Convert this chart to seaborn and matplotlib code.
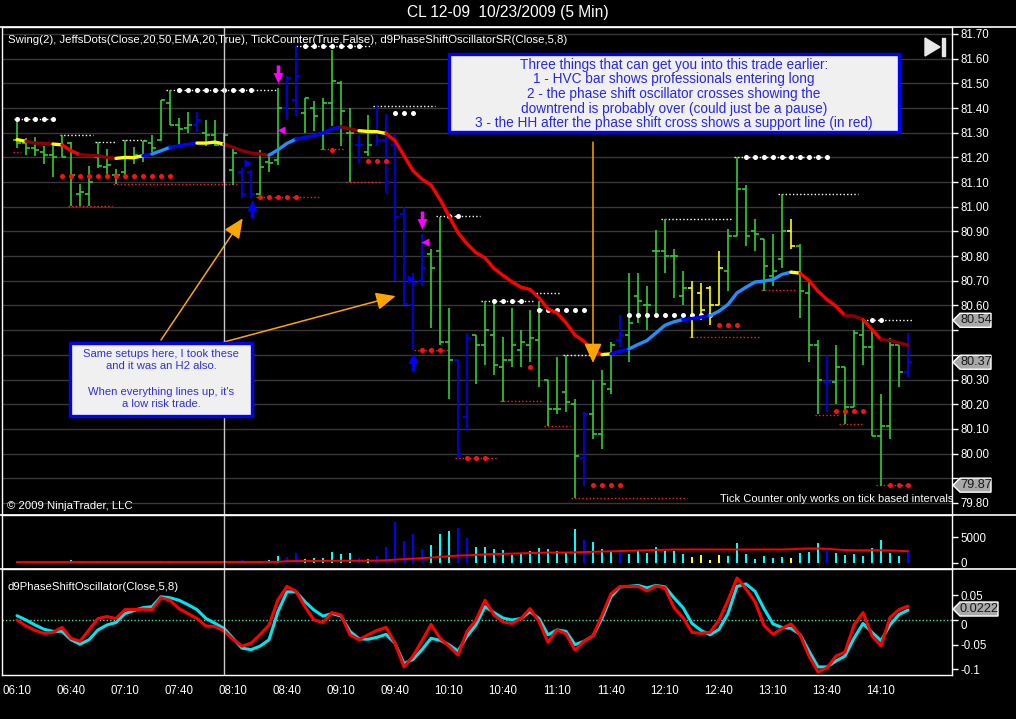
import matplotlib
matplotlib.use("Agg")
import matplotlib.pyplot as plt
from matplotlib.patches import Rectangle, Polygon
import numpy as np
import pandas as pd
import seaborn as sns

# ---- CL 12-09, 5 min bars (06:10 .. 14:25) ----
opens = [81.27, 81.26, 81.24, 81.22, 81.21, 81.25, 81.26, 81.05, 81.05, 81.20,
         81.16, 81.13, 81.14, 81.20, 81.20, 81.26, 81.27, 81.42, 81.33, 81.32,
         81.33, 81.30, 81.29, 81.25, 81.15, 81.14, 81.14, 81.05, 81.18, 81.19,
         81.40, 81.434, 81.38, 81.40, 81.30, 81.42, 81.50, 81.30, 81.25, 81.22,
         81.30, 81.27, 81.25, 80.97, 80.60, 80.70, 80.81, 80.82, 80.45, 80.38,
         80.15, 80.48, 80.44, 80.48, 80.35, 80.38, 80.42, 80.44, 80.46, 80.30,
         80.18, 80.25, 80.20, 79.98, 80.16, 80.08, 80.26, 80.46, 80.48, 80.64,
         80.60, 80.82, 80.82, 80.80, 80.64, 80.67, 80.65, 80.67, 80.60, 80.74,
         80.88, 81.07, 80.90, 80.87, 80.72, 80.79, 80.90, 80.84, 80.65, 80.44,
         80.29, 80.29, 80.35, 80.19, 80.48, 80.43, 80.07, 80.11, 80.44, 80.33]
highs = [81.355, 81.28, 81.284, 81.247, 81.247, 81.291, 81.261, 81.092, 81.164, 81.263,
         81.236, 81.155, 81.27, 81.243, 81.265, 81.292, 81.432, 81.474, 81.359, 81.382,
         81.382, 81.353, 81.353, 81.30, 81.234, 81.157, 81.15, 81.23, 81.21, 81.48,
         81.528, 81.65, 81.44, 81.427, 81.44, 81.634, 81.508, 81.40, 81.29, 81.37,
         81.413, 81.377, 81.30, 81.00, 80.73, 80.89, 80.83, 80.96, 80.59, 80.38,
         80.49, 80.48, 80.62, 80.615, 80.474, 80.59, 80.50, 80.58, 80.62, 80.30,
         80.39, 80.40, 80.22, 80.17, 80.30, 80.34, 80.45, 80.56, 80.73, 80.73,
         80.68, 80.905, 80.95, 80.83, 80.74, 80.70, 80.69, 80.68, 80.82, 80.91,
         81.20, 81.09, 80.95, 80.87, 80.89, 81.05, 80.95, 80.85, 80.70, 80.46,
         80.40, 80.44, 80.35, 80.50, 80.54, 80.50, 80.24, 80.47, 80.44, 80.49]
lows = [81.24, 81.21, 81.207, 81.173, 81.119, 81.20, 81.003, 81.003, 81.003, 81.159,
        81.132, 81.092, 81.119, 81.173, 81.18, 81.22, 81.265, 81.331, 81.241, 81.297,
        81.301, 81.245, 81.245, 81.10, 81.089, 81.036, 81.036, 81.046, 81.14, 81.17,
        81.353, 81.366, 81.30, 81.305, 81.23, 81.326, 81.245, 81.10, 81.177, 81.206,
        81.245, 81.055, 80.70, 80.60, 80.42, 80.68, 80.51, 80.44, 80.22, 79.98,
        80.09, 80.28, 80.36, 80.32, 80.21, 80.35, 80.35, 80.37, 80.27, 80.11,
        80.16, 80.17, 79.82, 79.87, 80.06, 80.02, 80.24, 80.43, 80.37, 80.53,
        80.50, 80.57, 80.73, 80.63, 80.60, 80.47, 80.54, 80.52, 80.60, 80.66,
        80.88, 80.84, 80.82, 80.66, 80.68, 80.75, 80.83, 80.55, 80.37, 80.16,
        80.17, 80.20, 80.12, 80.19, 80.36, 80.07, 79.87, 80.06, 80.27, 80.31]
closes = [81.26, 81.24, 81.23, 81.21, 81.20, 81.20, 81.13, 81.06, 81.10, 81.165,
          81.17, 81.13, 81.20, 81.21, 81.265, 81.24, 81.432, 81.33, 81.315, 81.33,
          81.35, 81.29, 81.25, 81.29, 81.218, 81.05, 81.05, 81.16, 81.177, 81.40,
          81.52, 81.528, 81.44, 81.366, 81.42, 81.508, 81.386, 81.30, 81.25, 81.25,
          81.27, 81.10, 80.96, 80.605, 80.69, 80.75, 80.75, 80.45, 80.38, 80.00,
          80.47, 80.44, 80.50, 80.36, 80.38, 80.44, 80.45, 80.47, 80.58, 80.18,
          80.18, 80.21, 79.99, 80.16, 80.08, 80.28, 80.44, 80.48, 80.53, 80.62,
          80.60, 80.82, 80.80, 80.80, 80.67, 80.55, 80.58, 80.60, 80.75, 80.88,
          81.07, 80.88, 80.89, 80.76, 80.74, 80.90, 80.84, 80.66, 80.44, 80.30,
          80.29, 80.35, 80.19, 80.49, 80.43, 80.07, 80.11, 80.44, 80.33, 80.37]
# g = normal bar, b = blue (high volume), y = yellow (low volume)
bar_kind = ("gggggggggg" "gggggggggg" "bggggbbggg" "bbggggggbg" "bbbbbbgggb"
            "bggggggggg" "gggbgggbgg" "gggggyyyyg" "ggggggyggg" "bggggggggb")

volumes = [150, 100, 100, 150, 100, 150, 500, 300, 150, 350,
           100, 150, 150, 200, 150, 100, 250, 250, 100, 100,
           150, 100, 150, 150, 200, 450, 300, 400, 450, 1300,
           1200, 2000, 700, 900, 1000, 2100, 1800, 2000, 1000, 700,
           1400, 3000, 8100, 4300, 5700, 2700, 3550, 5650, 6250, 6850,
           4900, 3000, 3000, 2650, 2500, 1500, 2000, 2300, 2900, 2700,
           2300, 2100, 6650, 4450, 4100, 2700, 2100, 2300, 1700, 2500,
           1900, 3100, 2300, 2300, 1700, 1100, 1500, 500, 1500, 1300,
           3900, 1700, 700, 1300, 900, 1100, 900, 1900, 2100, 3900,
           2500, 1900, 1500, 1700, 1300, 2900, 4450, 1900, 1300, 2300]
volume_avg = [120, 120, 120, 120, 120, 120, 130, 130, 130, 130,
              130, 130, 130, 130, 130, 130, 130, 130, 130, 130,
              130, 130, 130, 130, 130, 140, 140, 140, 150, 160,
              300, 330, 340, 350, 360, 370, 380, 390, 400, 410,
              420, 480, 600, 700, 800, 900, 1000, 1150, 1300, 1400,
              1450, 1550, 1650, 1700, 1750, 1800, 1850, 1900, 1950, 2000,
              2000, 2000, 2050, 2100, 2150, 2200, 2250, 2300, 2350, 2400,
              2450, 2500, 2550, 2600, 2600, 2600, 2600, 2600, 2600, 2600,
              2600, 2600, 2600, 2600, 2600, 2600, 2650, 2750, 2800, 2800,
              2750, 2600, 2500, 2450, 2450, 2450, 2450, 2400, 2350, 2250]

ema = [81.272, 81.265, 81.258, 81.257, 81.254, 81.251, 81.227, 81.211, 81.208, 81.207,
       81.200, 81.196, 81.200, 81.199, 81.207, 81.214, 81.227, 81.241, 81.247, 81.253,
       81.258, 81.258, 81.262, 81.254, 81.241, 81.227, 81.218, 81.214, 81.209, 81.231,
       81.257, 81.274, 81.281, 81.288, 81.299, 81.315, 81.324, 81.315, 81.308, 81.305,
       81.304, 81.297, 81.268, 81.207, 81.146, 81.112, 81.088, 81.030, 80.962, 80.895,
       80.850, 80.814, 80.793, 80.750, 80.722, 80.696, 80.674, 80.665, 80.631, 80.586,
       80.570, 80.530, 80.480, 80.455, 80.418, 80.401, 80.404, 80.415, 80.424, 80.442,
       80.458, 80.489, 80.520, 80.534, 80.543, 80.547, 80.553, 80.559, 80.577, 80.604,
       80.651, 80.674, 80.695, 80.699, 80.705, 80.726, 80.735, 80.731, 80.701, 80.658,
       80.624, 80.597, 80.559, 80.557, 80.543, 80.503, 80.462, 80.458, 80.449, 80.439]
# colour of each EMA segment bar i -> i+1
ema_kind = ("ydddyrrddddyyyb" "llbbbyyydddddlllbbbbbddyyy"
            "rrrrrrrrrrrrrrrrrrrrrrrr" "ybbllllllbbblllllllllyrrrrrddrrddd")

osc_fast = [0.0087, 0.0, -0.01, -0.0187, -0.023, -0.023, -0.04, -0.049, -0.04, -0.02,
            -0.01, -0.005, 0.013, 0.019, 0.025, 0.027, 0.047, 0.045, 0.04, 0.031,
            0.021, 0.003, -0.0067, -0.017, -0.037, -0.057, -0.06, -0.053, -0.04, 0.017,
            0.057, 0.057, 0.037, 0.02, 0.008, 0.013, 0.008, -0.023, -0.038, -0.039,
            -0.035, -0.029, -0.047, -0.088, -0.08, -0.06, -0.037, -0.041, -0.05, -0.063,
            -0.033, -0.01, 0.027, 0.015, 0.004, 0.0, 0.003, 0.017, 0.003, -0.03,
            -0.02, -0.023, -0.05, -0.043, -0.032, 0.003, 0.047, 0.067, 0.068, 0.07,
            0.065, 0.07, 0.067, 0.045, 0.025, -0.007, -0.021, -0.03, -0.019, 0.013,
            0.068, 0.073, 0.058, 0.023, -0.008, -0.015, -0.017, -0.029, -0.063, -0.095,
            -0.095, -0.083, -0.073, -0.037, -0.007, -0.025, -0.042, -0.01, 0.011, 0.02]
osc_slow = [0.0, -0.012, -0.021, -0.027, -0.025, -0.015, -0.037, -0.043, -0.02, 0.003,
            0.007, 0.003, 0.021, 0.021, 0.022, 0.021, 0.045, 0.04, 0.023, 0.013,
            0.003, -0.012, -0.013, -0.022, -0.039, -0.053, -0.047, -0.03, -0.01, 0.041,
            0.068, 0.058, 0.027, 0.0, -0.005, 0.015, 0.01, -0.03, -0.04, -0.03,
            -0.021, -0.015, -0.047, -0.095, -0.073, -0.042, -0.009, -0.037, -0.053, -0.071,
            -0.023, 0.0, 0.04, 0.01, -0.004, -0.007, 0.003, 0.023, -0.003, -0.045,
            -0.02, -0.028, -0.061, -0.043, -0.032, 0.01, 0.053, 0.068, 0.068, 0.068,
            0.059, 0.069, 0.065, 0.025, 0.005, -0.025, -0.027, -0.025, 0.0, 0.04,
            0.085, 0.063, 0.037, -0.011, -0.029, -0.017, -0.008, -0.03, -0.073, -0.105,
            -0.097, -0.073, -0.065, -0.01, 0.015, -0.032, -0.052, 0.005, 0.021, 0.028]

# Swing(2) levels: dotted lines (level, from bar, to bar)
swing_hi_level = [81.355, 81.29, 81.263, 81.27, 81.474, 81.653, 81.41, 80.962,
                  80.62, 80.649, 80.401, 80.95, 81.20, 81.05, 80.54]
swing_hi_from = [-0.3, 4.8, 8.7, 11.7, 16.6, 31.0, 39.6, 46.6,
                 51.6, 57.7, 60.7, 71.6, 79.7, 84.6, 94.0]
swing_hi_to = [4.4, 8.4, 10.9, 14.4, 28.8, 39.4, 46.4, 51.4,
               57.4, 60.4, 63.7, 79.4, 90.3, 93.4, 99.4]
swing_lo_level = [81.223, 81.003, 81.092, 81.038, 81.233, 81.10, 80.419, 79.98,
                  80.212, 80.111, 79.818, 80.472, 80.661, 80.158, 80.118, 79.872]
swing_lo_from = [-0.4, 5.7, 10.7, 26.6, 33.7, 36.6, 44.1, 48.7,
                 53.7, 58.6, 61.6, 74.7, 82.7, 88.7, 91.3, 95.4]
swing_lo_to = [0.4, 10.5, 24.4, 33.5, 36.4, 40.5, 47.9, 53.4,
               58.4, 61.4, 74.4, 82.4, 86.4, 91.4, 93.9, 99.2]
# JeffsDots: rows of big dots (level, first bar, last bar)
hi_dot_level = [81.355, 81.474, 81.653, 81.38, 80.962, 80.62, 80.581, 80.56, 81.20, 80.54]
hi_dot_first = [0, 18, 32, 42, 48, 53, 58, 68, 81, 95]
hi_dot_last = [4, 26, 38, 44, 49, 56, 63, 77, 90, 96]
lo_dot_level = [81.123, 81.04, 81.231, 81.184, 80.419, 79.98, 80.351, 79.872, 80.52, 80.172, 79.872]
lo_dot_first = [5, 27, 35, 39, 45, 50, 57, 64, 78, 91, 97]
lo_dot_last = [17, 31, 35, 41, 47, 52, 57, 67, 80, 94, 99]

# phase shift signals
sig_down_bar, sig_down_price = [29, 45], [81.536, 80.948]
sig_up_bar, sig_up_price = [26.1, 44], [80.989, 80.371]
sig_left_bar, sig_left_price = [29.33, 45.33], [81.31, 80.857]
sig_right_bar, sig_right_price = [25.67, 43.74], [81.177, 80.707]

times = pd.date_range("2009-10-23 06:10", periods=len(closes), freq="5min").strftime("%H:%M")
price_ticks = [round(79.8 + 0.1 * k, 2) for k in range(20)]
osc_last = 0.0222
cursor_bar = 23

# ---- style ----
sns.set_theme(style="dark", rc={
    "axes.facecolor": "black", "figure.facecolor": "black",
    "axes.edgecolor": "white", "text.color": "white",
    "xtick.color": "white", "ytick.color": "white",
    "axes.grid": False, "axes.linewidth": 1.0})
plt.rcParams["font.family"] = ["Liberation Sans", "DejaVu Sans"]

W, H = 1016, 719
fig = plt.figure(figsize=(W / 100, H / 100), dpi=100)


def fx(px):
    return px / W


def fy(py):
    return 1 - py / H


L, R = 2, 952
ax_p = fig.add_axes([fx(L), fy(515), fx(R - L), (515 - 27) / H])
ax_v = fig.add_axes([fx(L), fy(569), fx(R - L), (569 - 515) / H])
ax_o = fig.add_axes([fx(L), fy(675), fx(R - L), (675 - 569) / H])

x = np.arange(len(closes))
xlim = ((L - 17) / 9, (R - 17) / 9)

# ---- price panel ----
bar_cmap = {"g": "#33CC33", "b": "#0000FF", "y": "#FFFF00"}
cols = [bar_cmap[k] for k in bar_kind]
for lv in price_ticks:
    ax_p.axhline(lv, color="#383838", lw=1, zorder=0)

for lv, a, b in zip(swing_hi_level, swing_hi_from, swing_hi_to):
    ax_p.hlines(lv, a, b, colors="white", linestyles=(0, (1, 1.6)), lw=1, zorder=2)
for lv, a, b in zip(swing_lo_level, swing_lo_from, swing_lo_to):
    ax_p.hlines(lv, a, b, colors="#FF2020", linestyles=(0, (1, 1.6)), lw=1, zorder=2)
for lv, a, b in zip(hi_dot_level, hi_dot_first, hi_dot_last):
    bars = np.arange(a, b + 1)
    ax_p.scatter(bars, [lv] * len(bars), marker="o", s=13, color="white", lw=0, zorder=4)
for lv, a, b in zip(lo_dot_level, lo_dot_first, lo_dot_last):
    bars = np.arange(a, b + 1)
    ax_p.scatter(bars, [lv] * len(bars), marker="o", s=13, color="#FF1010", lw=0, zorder=4)

ax_p.vlines(x, lows, highs, colors=cols, lw=1.2, zorder=3)
ax_p.hlines(opens, x - 0.4, x, colors=cols, lw=1.2, zorder=3)
ax_p.hlines(closes, x, x + 0.4, colors=cols, lw=1.2, zorder=3)

ema_cmap = {"y": "#FFFF00", "d": "#8B0000", "r": "#FF0000", "b": "#0000FF", "l": "#1E90FF"}
start = 0
for i in range(1, len(ema_kind) + 1):
    if i == len(ema_kind) or ema_kind[i] != ema_kind[start]:
        ax_p.plot(x[start:i + 1], ema[start:i + 1], color=ema_cmap[ema_kind[start]],
                  lw=2.4, solid_capstyle="round", zorder=5)
        start = i

down_arrow = [(-0.2, 1), (0.2, 1), (0.2, 0.15), (0.55, 0.15), (0, -1), (-0.55, 0.15), (-0.2, 0.15)]
up_arrow = [(vx, -vy) for vx, vy in down_arrow]
ax_p.plot(sig_down_bar, sig_down_price, ls="none", marker=down_arrow, ms=13, color="#FF00FF", mec="none", zorder=6)
ax_p.plot(sig_up_bar, sig_up_price, ls="none", marker=up_arrow, ms=13, color="#0000FF", mec="none", zorder=6)
ax_p.plot(sig_left_bar, sig_left_price, ls="none", marker="<", ms=6, color="#FF00FF", mec="none", zorder=6)
ax_p.plot(sig_right_bar, sig_right_price, ls="none", marker=">", ms=6, color="#0000FF", mec="none", zorder=6)

arrow_kw = dict(arrowstyle="-|>,head_length=1.0,head_width=0.45", color="#FFA500",
                lw=1.1, shrinkA=0, shrinkB=0, mutation_scale=12)
ax_p.annotate("", xy=(25.08, 80.953), xytext=(16.0, 80.46), arrowprops=arrow_kw, zorder=7)
ax_p.annotate("", xy=(42.07, 80.638), xytext=(23.0, 80.452), arrowprops=arrow_kw, zorder=7)
ax_p.annotate("", xy=(64.0, 80.367), xytext=(64.0, 81.262), arrowprops=arrow_kw, zorder=7)

# flags on the right axis hide the grid labels they sit on
flag_values = [swing_hi_level[-1], closes[-1], swing_lo_level[-1]]
ax_p.set_xlim(*xlim)
ax_p.set_ylim(81.70 - (515 - 34) / 246.8, 81.70 + 7 / 246.8)
ax_p.set_yticks(price_ticks)
ax_p.set_yticklabels(["" if min(abs(v - f) for f in flag_values) < 0.045 else f"{v:.2f}"
                      for v in price_ticks])
ax_p.set_xticks([])

# ---- volume panel ----
vcmap = {"g": "#00FFFF", "b": "#0000FF", "y": "#FFFF00"}
ax_v.bar(x, volumes, width=0.26, color=[vcmap[k] for k in bar_kind], lw=0, edgecolor="none", zorder=2)
sns.lineplot(x=x, y=volume_avg, color="#FF0000", lw=1.4, ax=ax_v, zorder=3)
ax_v.set_xlim(*xlim)
ax_v.set_ylim(-(569 - 562.7) * 197, (562.7 - 515) * 197)
ax_v.set_yticks([0, 5000])
ax_v.set_yticklabels(["0", "5000"])
ax_v.set_xticks([])

# ---- oscillator panel ----
ax_o.axhline(0, color="#40E0A0", lw=1, ls=(0, (1, 1.5)), zorder=1)
sns.lineplot(x=x, y=osc_fast, color="#00E5EE", lw=2.2, ax=ax_o, zorder=3)
sns.lineplot(x=x, y=osc_slow, color="#FF0000", lw=2.2, ax=ax_o, zorder=4)
ax_o.set_xlim(*xlim)
ax_o.set_ylim(-(675 - 620) * 0.002024, (620 - 569) * 0.002024)
ax_o.set_yticks([0.05, 0, -0.05, -0.1])
ax_o.set_yticklabels(["0.05", "0", "-0.05", "-0.1"])
ax_o.set_xticks(x[::6])
ax_o.set_xticklabels(times[::6])

for ax in (ax_p, ax_v, ax_o):
    ax.yaxis.tick_right()
    ax.tick_params(axis="y", direction="out", length=4, width=1, pad=2, labelsize=8.3, colors="white")
    ax.tick_params(axis="x", direction="out", length=4, width=1, pad=3, labelsize=8.3, colors="white")
    ax.set_xlabel("")
    ax.set_ylabel("")
    ax.axvline(cursor_bar, color="#C8C8C8", lw=1, zorder=8)
    for s in ax.spines.values():
        s.set_color("white")
for t in ax_o.get_yticklabels():
    if t.get_text() == "0":
        t.set_va("top")

# full-width separators
for yy in (27, 515, 569):
    fig.add_artist(plt.Line2D([0, 1], [fy(yy), fy(yy)], color="white", lw=1.2))

# ---- texts ----
fig.text(0.5, fy(12), "CL 12-09  10/23/2009 (5 Min)", ha="center", va="center", fontsize=11.2, color="white")
fig.text(fx(8), fy(40), "Swing(2), JeffsDots(Close,20,50,EMA,20,True), TickCounter(True,False), "
         "d9PhaseShiftOscillatorSR(Close,5,8)", ha="left", va="center", fontsize=8.2, color="white")
fig.text(fx(7), fy(506), "\u00a9 2009 NinjaTrader, LLC", ha="left", va="center", fontsize=8.2, color="white")
fig.text(fx(953), fy(499), "Tick Counter only works on tick based intervals", ha="right", va="center",
         fontsize=8, color="white")
fig.text(fx(8), fy(587), "d9PhaseShiftOscillator(Close,5,8)", ha="left", va="center", fontsize=8.2, color="white")

# play icon
fig.add_artist(Polygon([(fx(925), fy(38)), (fx(925), fy(56)), (fx(940), fy(47))], closed=True,
                       transform=fig.transFigure, color="#E8E8E8"))
fig.add_artist(Rectangle((fx(942), fy(56)), fx(3), 18 / H, transform=fig.transFigure, color="#E8E8E8"))

# annotation boxes
for (x0, y0, x1, y1) in [(449, 54, 899, 132), (70, 343, 252, 416)]:
    fig.add_artist(Rectangle((fx(x0), fy(y1)), fx(x1 - x0), (y1 - y0) / H, transform=fig.transFigure,
                             facecolor="#F0F0F0", edgecolor="#0000FF", lw=2.4, zorder=9))
fig.text(fx(674), fy(94), "Three things that can get you into this trade earlier:\n"
         "1 - HVC bar shows professionals entering long\n"
         "2 - the phase shift oscillator crosses showing the\n"
         "downtrend is probably over (could just be a pause)\n"
         "3 - the HH after the phase shift cross shows a support line (in red)",
         ha="center", va="center", fontsize=9.8, color="#2828E8", linespacing=1.06, zorder=10)
fig.text(fx(161), fy(379), "Same setups here, I took these\nand it was an H2 also.\n\n"
         "When everything lines up, it's\na low risk trade.",
         ha="center", va="center", fontsize=8.1, color="#3030E0", linespacing=1.32, zorder=10)


# last value flags on the right axis
def flag(ax, value, text, width):
    yp = ax.transData.transform((0, value))[1]
    yy = H - yp
    pts = [(953, yy), (960, yy - 7), (953 + width, yy - 7), (953 + width, yy + 7), (960, yy + 7)]
    fig.add_artist(Polygon([(fx(a), fy(b)) for a, b in pts], closed=True, transform=fig.transFigure,
                           facecolor="#A8A8A8", edgecolor="white", lw=1, zorder=11))
    fig.text(fx(953 + 4 + width / 2), fy(yy), text, ha="center", va="center", fontsize=9.2,
             color="#181818", zorder=12)


for v in flag_values:
    flag(ax_p, v, f"{v:.2f}", 38)
flag(ax_o, osc_last, f"{osc_last:.4f}", 45)

fig.savefig("out.png", dpi=100, facecolor="black")
